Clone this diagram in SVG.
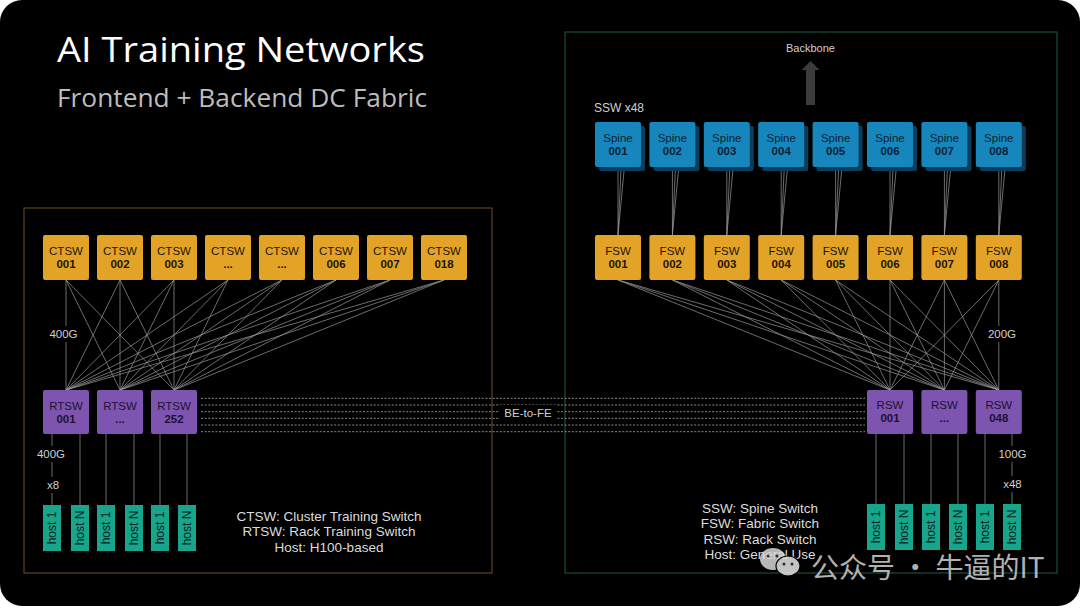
<svg xmlns="http://www.w3.org/2000/svg" width="1080" height="608" viewBox="0 0 1080 608">
<style>
text{font-family:"Liberation Sans",Arial,sans-serif}
.ttl{font-family:"Open Sans","Liberation Sans",sans-serif}
.nt{font-size:11.5px;text-anchor:middle}
.nb{font-size:11.5px;font-weight:700;text-anchor:middle}
.ct{fill:#e3a327}
.sp{fill:#1786bd}
.spsh{fill:#0c3d5a}
.pu{fill:#7d55b0}
.ho{fill:#17a68b}
.dk{fill:#1c1608}
.dkb{fill:#0a2334}
.dkp{fill:#1d1130}
.dkh{fill:#06241e}
.hl{font-size:12px;text-anchor:middle}
.lbl{font-size:11.5px;fill:#cfcfcf;text-anchor:middle}
.leg{font-size:13.5px;fill:#dcdcdc;text-anchor:middle}
.mesh line{stroke:#9a9a9a;stroke-width:0.7}
.dot line{stroke:#8a8a8a;stroke-width:1;stroke-dasharray:2 1.6}
</style>
<rect width="1080" height="608" fill="#ffffff"/>
<rect x="0" y="0" width="1080" height="606" rx="22" fill="#000000"/>

<text class="ttl" x="57" y="62" font-size="35" fill="#ffffff" textLength="368" lengthAdjust="spacingAndGlyphs">AI Training Networks</text>
<text class="ttl" x="57" y="107" font-size="25" fill="#bdbdbd" textLength="370" lengthAdjust="spacingAndGlyphs">Frontend + Backend DC Fabric</text>

<rect id="frontend-box" x="24" y="208" width="468" height="365" fill="none" stroke="#6e5120" stroke-width="1"/>
<rect id="backend-box" x="565" y="32" width="492" height="541" fill="none" stroke="#1d5a49" stroke-width="1"/>

<g id="connectors">
 <g class="mesh">
  <line x1="66" y1="280" x2="66" y2="390"/><line x1="66" y1="280" x2="120" y2="390"/><line x1="66" y1="280" x2="174" y2="390"/>
  <line x1="120" y1="280" x2="66" y2="390"/><line x1="120" y1="280" x2="120" y2="390"/><line x1="120" y1="280" x2="174" y2="390"/>
  <line x1="174" y1="280" x2="66" y2="390"/><line x1="174" y1="280" x2="120" y2="390"/><line x1="174" y1="280" x2="174" y2="390"/>
  <line x1="228" y1="280" x2="66" y2="390"/><line x1="228" y1="280" x2="120" y2="390"/><line x1="228" y1="280" x2="174" y2="390"/>
  <line x1="282" y1="280" x2="66" y2="390"/><line x1="282" y1="280" x2="120" y2="390"/><line x1="282" y1="280" x2="174" y2="390"/>
  <line x1="336" y1="280" x2="66" y2="390"/><line x1="336" y1="280" x2="120" y2="390"/><line x1="336" y1="280" x2="174" y2="390"/>
  <line x1="390" y1="280" x2="66" y2="390"/><line x1="390" y1="280" x2="120" y2="390"/><line x1="390" y1="280" x2="174" y2="390"/>
  <line x1="444" y1="280" x2="66" y2="390"/><line x1="444" y1="280" x2="120" y2="390"/><line x1="444" y1="280" x2="174" y2="390"/>
  <line x1="52" y1="434" x2="52" y2="505"/><line x1="80" y1="434" x2="80" y2="505"/>
  <line x1="106" y1="434" x2="106" y2="505"/><line x1="134" y1="434" x2="134" y2="505"/>
  <line x1="160" y1="434" x2="160" y2="505"/><line x1="187" y1="434" x2="187" y2="505"/>
  <line x1="618" y1="167" x2="618" y2="235"/><line x1="621" y1="169" x2="618" y2="235"/><line x1="624" y1="171" x2="618" y2="235"/>
  <line x1="672.4" y1="167" x2="672.4" y2="235"/><line x1="675.4" y1="169" x2="672.4" y2="235"/><line x1="678.4" y1="171" x2="672.4" y2="235"/>
  <line x1="726.8" y1="167" x2="726.8" y2="235"/><line x1="729.8" y1="169" x2="726.8" y2="235"/><line x1="732.8" y1="171" x2="726.8" y2="235"/>
  <line x1="781.2" y1="167" x2="781.2" y2="235"/><line x1="784.2" y1="169" x2="781.2" y2="235"/><line x1="787.2" y1="171" x2="781.2" y2="235"/>
  <line x1="835.6" y1="167" x2="835.6" y2="235"/><line x1="838.6" y1="169" x2="835.6" y2="235"/><line x1="841.6" y1="171" x2="835.6" y2="235"/>
  <line x1="890" y1="167" x2="890" y2="235"/><line x1="893" y1="169" x2="890" y2="235"/><line x1="896" y1="171" x2="890" y2="235"/>
  <line x1="944.4" y1="167" x2="944.4" y2="235"/><line x1="947.4" y1="169" x2="944.4" y2="235"/><line x1="950.4" y1="171" x2="944.4" y2="235"/>
  <line x1="998.8" y1="167" x2="998.8" y2="235"/><line x1="1001.8" y1="169" x2="998.8" y2="235"/><line x1="1004.8" y1="171" x2="998.8" y2="235"/>
  <line x1="618" y1="280" x2="890" y2="390"/><line x1="618" y1="280" x2="944.4" y2="390"/><line x1="618" y1="280" x2="998.8" y2="390"/>
  <line x1="672.4" y1="280" x2="890" y2="390"/><line x1="672.4" y1="280" x2="944.4" y2="390"/><line x1="672.4" y1="280" x2="998.8" y2="390"/>
  <line x1="726.8" y1="280" x2="890" y2="390"/><line x1="726.8" y1="280" x2="944.4" y2="390"/><line x1="726.8" y1="280" x2="998.8" y2="390"/>
  <line x1="781.2" y1="280" x2="890" y2="390"/><line x1="781.2" y1="280" x2="944.4" y2="390"/><line x1="781.2" y1="280" x2="998.8" y2="390"/>
  <line x1="835.6" y1="280" x2="890" y2="390"/><line x1="835.6" y1="280" x2="944.4" y2="390"/><line x1="835.6" y1="280" x2="998.8" y2="390"/>
  <line x1="890" y1="280" x2="890" y2="390"/><line x1="890" y1="280" x2="944.4" y2="390"/><line x1="890" y1="280" x2="998.8" y2="390"/>
  <line x1="944.4" y1="280" x2="890" y2="390"/><line x1="944.4" y1="280" x2="944.4" y2="390"/><line x1="944.4" y1="280" x2="998.8" y2="390"/>
  <line x1="998.8" y1="280" x2="890" y2="390"/><line x1="998.8" y1="280" x2="944.4" y2="390"/><line x1="998.8" y1="280" x2="998.8" y2="390"/>
  <line x1="876" y1="434" x2="876" y2="504"/><line x1="904" y1="434" x2="904" y2="504"/>
  <line x1="931" y1="434" x2="931" y2="504"/><line x1="958" y1="434" x2="958" y2="504"/>
  <line x1="985" y1="434" x2="985" y2="504"/><line x1="1012" y1="434" x2="1012" y2="504"/>
 </g>
 <g class="dot">
  <line x1="201" y1="398.3" x2="865" y2="398.3"/>
  <line x1="201" y1="405" x2="865" y2="405"/>
  <line x1="201" y1="411.7" x2="865" y2="411.7"/>
  <line x1="201" y1="418.3" x2="865" y2="418.3"/>
  <line x1="201" y1="425" x2="865" y2="425"/>
  <line x1="201" y1="431.7" x2="865" y2="431.7"/>
 </g>
 <path id="backbone-arrow" d="M806,105 L806,70 L801.5,70 L810.5,61 L819.5,70 L815,70 L815,105 Z" fill="#3c3c3c"/>
</g>

<g id="labels">
 <rect x="46" y="326" width="36" height="16" fill="#000"/>
 <text class="lbl" x="63.5" y="338">400G</text>
 <rect x="34" y="446" width="34" height="16" fill="#000"/>
 <text class="lbl" x="51" y="458">400G</text>
 <rect x="44" y="477" width="18" height="16" fill="#000"/>
 <text class="lbl" x="53" y="489">x8</text>
 <rect x="984" y="326" width="34" height="16" fill="#000"/>
 <text class="lbl" x="1002" y="338">200G</text>
 <rect x="996" y="446" width="33" height="16" fill="#000"/>
 <text class="lbl" x="1012.5" y="458">100G</text>
 <rect x="1000" y="476" width="25" height="16" fill="#000"/>
 <text class="lbl" x="1012.5" y="488">x48</text>
 <rect x="499" y="405" width="58" height="16" fill="#000"/>
 <text class="lbl" x="528" y="417">BE-to-FE</text>
 <text x="810.5" y="51.5" font-size="11" fill="#d0d0d0" text-anchor="middle">Backbone</text>
 <text x="594" y="112" font-size="12" fill="#cfcfcf">SSW x48</text>
 <text class="leg" x="329" y="521">CTSW: Cluster Training Switch</text>
 <text class="leg" x="329" y="536.3">RTSW: Rack Training Switch</text>
 <text class="leg" x="329" y="551.6">Host: H100-based</text>
 <text class="leg" x="760" y="513">SSW: Spine Switch</text>
 <text class="leg" x="760" y="528.3">FSW: Fabric Switch</text>
 <text class="leg" x="760" y="543.6">RSW: Rack Switch</text>
 <text class="leg" x="760" y="559">Host: General Use</text>
</g>

<g id="ctsw-001" transform="translate(43,235)"><rect class="ct" width="46" height="45" rx="2"/><text class="nt dk" x="23" y="19.5">CTSW</text><text class="nb dk" x="23" y="32.5">001</text></g>
<g id="ctsw-002" transform="translate(97,235)"><rect class="ct" width="46" height="45" rx="2"/><text class="nt dk" x="23" y="19.5">CTSW</text><text class="nb dk" x="23" y="32.5">002</text></g>
<g id="ctsw-003" transform="translate(151,235)"><rect class="ct" width="46" height="45" rx="2"/><text class="nt dk" x="23" y="19.5">CTSW</text><text class="nb dk" x="23" y="32.5">003</text></g>
<g id="ctsw-004" transform="translate(205,235)"><rect class="ct" width="46" height="45" rx="2"/><text class="nt dk" x="23" y="19.5">CTSW</text><text class="nb dk" x="23" y="32.5">...</text></g>
<g id="ctsw-005" transform="translate(259,235)"><rect class="ct" width="46" height="45" rx="2"/><text class="nt dk" x="23" y="19.5">CTSW</text><text class="nb dk" x="23" y="32.5">...</text></g>
<g id="ctsw-006" transform="translate(313,235)"><rect class="ct" width="46" height="45" rx="2"/><text class="nt dk" x="23" y="19.5">CTSW</text><text class="nb dk" x="23" y="32.5">006</text></g>
<g id="ctsw-007" transform="translate(367,235)"><rect class="ct" width="46" height="45" rx="2"/><text class="nt dk" x="23" y="19.5">CTSW</text><text class="nb dk" x="23" y="32.5">007</text></g>
<g id="ctsw-018" transform="translate(421,235)"><rect class="ct" width="46" height="45" rx="2"/><text class="nt dk" x="23" y="19.5">CTSW</text><text class="nb dk" x="23" y="32.5">018</text></g>

<g id="rtsw-001" transform="translate(43,390)"><rect class="pu" width="46" height="44" rx="2"/><text class="nt dkp" x="23" y="19.5">RTSW</text><text class="nb dkp" x="23" y="32.5">001</text></g>
<g id="rtsw-mid" transform="translate(97,390)"><rect class="pu" width="46" height="44" rx="2"/><text class="nt dkp" x="23" y="19.5">RTSW</text><text class="nb dkp" x="23" y="32.5">...</text></g>
<g id="rtsw-252" transform="translate(151,390)"><rect class="pu" width="46" height="44" rx="2"/><text class="nt dkp" x="23" y="19.5">RTSW</text><text class="nb dkp" x="23" y="32.5">252</text></g>

<g id="lhost-1" transform="translate(43,505)"><rect class="ho" width="18" height="46"/><text class="hl dkh" transform="translate(13.3,23) rotate(-90)">host 1</text></g>
<g id="lhost-2" transform="translate(71,505)"><rect class="ho" width="18" height="46"/><text class="hl dkh" transform="translate(13.3,23) rotate(-90)">host N</text></g>
<g id="lhost-3" transform="translate(97,505)"><rect class="ho" width="18" height="46"/><text class="hl dkh" transform="translate(13.3,23) rotate(-90)">host 1</text></g>
<g id="lhost-4" transform="translate(125,505)"><rect class="ho" width="18" height="46"/><text class="hl dkh" transform="translate(13.3,23) rotate(-90)">host N</text></g>
<g id="lhost-5" transform="translate(151,505)"><rect class="ho" width="18" height="46"/><text class="hl dkh" transform="translate(13.3,23) rotate(-90)">host 1</text></g>
<g id="lhost-6" transform="translate(178,505)"><rect class="ho" width="18" height="46"/><text class="hl dkh" transform="translate(13.3,23) rotate(-90)">host N</text></g>

<g id="spine-001" transform="translate(595,122)"><rect class="spsh" x="4" y="4" width="46" height="45" rx="2"/><rect class="sp" width="46" height="45" rx="2"/><text class="nt dkb" x="23" y="19.5">Spine</text><text class="nb dkb" x="23" y="32.5">001</text></g>
<g id="spine-002" transform="translate(649.4,122)"><rect class="spsh" x="4" y="4" width="46" height="45" rx="2"/><rect class="sp" width="46" height="45" rx="2"/><text class="nt dkb" x="23" y="19.5">Spine</text><text class="nb dkb" x="23" y="32.5">002</text></g>
<g id="spine-003" transform="translate(703.8,122)"><rect class="spsh" x="4" y="4" width="46" height="45" rx="2"/><rect class="sp" width="46" height="45" rx="2"/><text class="nt dkb" x="23" y="19.5">Spine</text><text class="nb dkb" x="23" y="32.5">003</text></g>
<g id="spine-004" transform="translate(758.2,122)"><rect class="spsh" x="4" y="4" width="46" height="45" rx="2"/><rect class="sp" width="46" height="45" rx="2"/><text class="nt dkb" x="23" y="19.5">Spine</text><text class="nb dkb" x="23" y="32.5">004</text></g>
<g id="spine-005" transform="translate(812.6,122)"><rect class="spsh" x="4" y="4" width="46" height="45" rx="2"/><rect class="sp" width="46" height="45" rx="2"/><text class="nt dkb" x="23" y="19.5">Spine</text><text class="nb dkb" x="23" y="32.5">005</text></g>
<g id="spine-006" transform="translate(867,122)"><rect class="spsh" x="4" y="4" width="46" height="45" rx="2"/><rect class="sp" width="46" height="45" rx="2"/><text class="nt dkb" x="23" y="19.5">Spine</text><text class="nb dkb" x="23" y="32.5">006</text></g>
<g id="spine-007" transform="translate(921.4,122)"><rect class="spsh" x="4" y="4" width="46" height="45" rx="2"/><rect class="sp" width="46" height="45" rx="2"/><text class="nt dkb" x="23" y="19.5">Spine</text><text class="nb dkb" x="23" y="32.5">007</text></g>
<g id="spine-008" transform="translate(975.8,122)"><rect class="spsh" x="4" y="4" width="46" height="45" rx="2"/><rect class="sp" width="46" height="45" rx="2"/><text class="nt dkb" x="23" y="19.5">Spine</text><text class="nb dkb" x="23" y="32.5">008</text></g>

<g id="fsw-001" transform="translate(595,235)"><rect class="ct" width="46" height="45" rx="2"/><text class="nt dk" x="23" y="19.5">FSW</text><text class="nb dk" x="23" y="32.5">001</text></g>
<g id="fsw-002" transform="translate(649.4,235)"><rect class="ct" width="46" height="45" rx="2"/><text class="nt dk" x="23" y="19.5">FSW</text><text class="nb dk" x="23" y="32.5">002</text></g>
<g id="fsw-003" transform="translate(703.8,235)"><rect class="ct" width="46" height="45" rx="2"/><text class="nt dk" x="23" y="19.5">FSW</text><text class="nb dk" x="23" y="32.5">003</text></g>
<g id="fsw-004" transform="translate(758.2,235)"><rect class="ct" width="46" height="45" rx="2"/><text class="nt dk" x="23" y="19.5">FSW</text><text class="nb dk" x="23" y="32.5">004</text></g>
<g id="fsw-005" transform="translate(812.6,235)"><rect class="ct" width="46" height="45" rx="2"/><text class="nt dk" x="23" y="19.5">FSW</text><text class="nb dk" x="23" y="32.5">005</text></g>
<g id="fsw-006" transform="translate(867,235)"><rect class="ct" width="46" height="45" rx="2"/><text class="nt dk" x="23" y="19.5">FSW</text><text class="nb dk" x="23" y="32.5">006</text></g>
<g id="fsw-007" transform="translate(921.4,235)"><rect class="ct" width="46" height="45" rx="2"/><text class="nt dk" x="23" y="19.5">FSW</text><text class="nb dk" x="23" y="32.5">007</text></g>
<g id="fsw-008" transform="translate(975.8,235)"><rect class="ct" width="46" height="45" rx="2"/><text class="nt dk" x="23" y="19.5">FSW</text><text class="nb dk" x="23" y="32.5">008</text></g>

<g id="rsw-001" transform="translate(867,390)"><rect class="pu" width="46" height="44" rx="2"/><text class="nt dkp" x="23" y="19">RSW</text><text class="nb dkp" x="23" y="32">001</text></g>
<g id="rsw-mid" transform="translate(921.4,390)"><rect class="pu" width="46" height="44" rx="2"/><text class="nt dkp" x="23" y="19">RSW</text><text class="nb dkp" x="23" y="32">...</text></g>
<g id="rsw-048" transform="translate(975.8,390)"><rect class="pu" width="46" height="44" rx="2"/><text class="nt dkp" x="23" y="19">RSW</text><text class="nb dkp" x="23" y="32">048</text></g>

<g id="rhost-1" transform="translate(867,504)"><rect class="ho" width="18" height="46"/><text class="hl dkh" transform="translate(13.3,23) rotate(-90)">host 1</text></g>
<g id="rhost-2" transform="translate(895,504)"><rect class="ho" width="18" height="46"/><text class="hl dkh" transform="translate(13.3,23) rotate(-90)">host N</text></g>
<g id="rhost-3" transform="translate(922,504)"><rect class="ho" width="18" height="46"/><text class="hl dkh" transform="translate(13.3,23) rotate(-90)">host 1</text></g>
<g id="rhost-4" transform="translate(949,504)"><rect class="ho" width="18" height="46"/><text class="hl dkh" transform="translate(13.3,23) rotate(-90)">host N</text></g>
<g id="rhost-5" transform="translate(976,504)"><rect class="ho" width="18" height="46"/><text class="hl dkh" transform="translate(13.3,23) rotate(-90)">host 1</text></g>
<g id="rhost-6" transform="translate(1003,504)"><rect class="ho" width="18" height="46"/><text class="hl dkh" transform="translate(13.3,23) rotate(-90)">host N</text></g>

<g id="watermark" opacity="0.85">
 <ellipse cx="773" cy="559" rx="13" ry="11" fill="#d8d8d8"/>
 <ellipse cx="788" cy="566" rx="12" ry="10" fill="#e6e6e6" stroke="#000" stroke-width="1.2"/>
 <circle cx="768" cy="556" r="1.6" fill="#333"/><circle cx="777" cy="556" r="1.6" fill="#333"/>
 <circle cx="784" cy="564" r="1.5" fill="#333"/><circle cx="792" cy="564" r="1.5" fill="#333"/>
 <text x="811" y="578" font-size="28" fill="#d0d0d0" style="font-family:'Noto Sans CJK SC','Noto Sans',sans-serif">公众号 · 牛逼的IT</text>
</g>
</svg>
